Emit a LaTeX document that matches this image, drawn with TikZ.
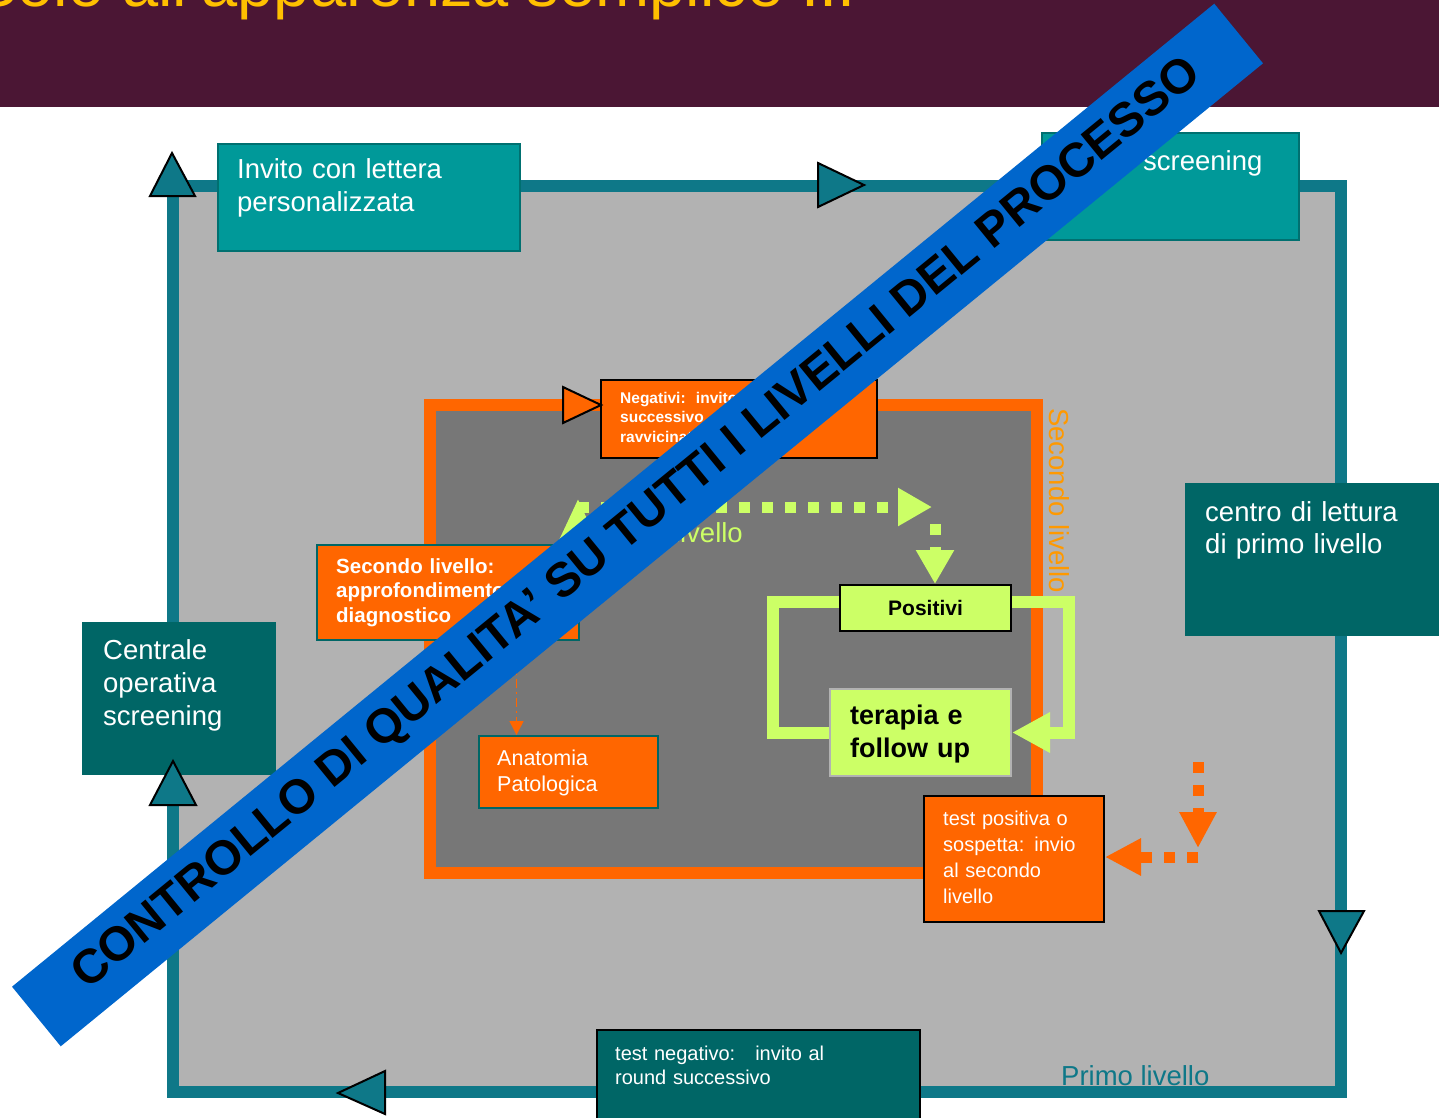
\documentclass[tikz,border=0pt]{standalone}
\usepackage{fontspec}
\setmainfont{Liberation Sans}
\usepackage{tikz}
\usetikzlibrary{calc, arrows.meta}

\definecolor{barra}{HTML}{4B1634}
\definecolor{titolo}{HTML}{FFC000}
\definecolor{cornice}{HTML}{0E7888}
\definecolor{grigio}{HTML}{B2B2B2}
\definecolor{tealchiaro}{HTML}{009999}
\definecolor{tealbordo}{HTML}{007070}
\definecolor{tealscuro}{HTML}{006666}
\definecolor{arancio}{HTML}{FF6600}
\definecolor{grigioscuro}{HTML}{777777}
\definecolor{verde}{HTML}{CCFF66}
\definecolor{ocra}{HTML}{FF9900}
\definecolor{blu}{HTML}{0066CC}

\tikzstyle{scatola}=[draw, line width=2pt, anchor=north west, inner sep=0pt]
\tikzstyle{testo}=[anchor=base west, inner sep=0pt, align=left, text width=8cm, text=white]
\tikzstyle{punta}=[draw=black, line width=2pt, fill=cornice, line join=miter]
\tikzstyle{punti}=[line width=11pt, dash pattern=on 11pt off 12pt]
\tikzstyle{grande}=[font=\fontsize{27.5}{33.5}\selectfont]
\tikzstyle{medio}=[font=\fontsize{20}{26.3}\selectfont]

\begin{document}
\begin{tikzpicture}[x=1pt,y=-1pt,>=Triangle]
  \useasboundingbox (0,0) rectangle (1439,1117);

  % titolo
  \fill[barra] (0,0) rectangle (1439,107);
  \node[anchor=base west, inner sep=0pt, text=titolo, font=\fontsize{65}{72}\selectfont] (titolo) at (-26,6) {Solo all'apparenza semplice ...};

  % primo livello
  \draw[cornice, line width=12pt, fill=grigio] (173,186) rectangle (1341,1092);

  \node[scatola, fill=tealchiaro, draw=tealbordo, minimum width=302pt, minimum height=107pt] (invito) at (217,143) {};
  \node[testo, grande] (invitotxt) at (237,178) {Invito con lettera\\personalizzata};

  \node[scatola, fill=tealchiaro, draw=tealbordo, minimum width=257pt, minimum height=107pt] (screening) at (1041,132) {};
  \node[testo, grande] (screeningtxt) at (1143,170) {screening};

  \node[scatola, fill=tealscuro, draw=tealscuro, minimum width=270pt, minimum height=151pt] (centro) at (1185,483) {};
  \node[testo, font=\fontsize{27.5}{32}\selectfont] (centrotxt) at (1205,521) {centro di lettura\\di primo livello};

  \node[scatola, fill=tealscuro, draw=tealscuro, minimum width=192pt, minimum height=151pt] (centrale) at (82,622) {};
  \node[testo, font=\fontsize{27.5}{33}\selectfont] (centraletxt) at (103,659) {Centrale\\operativa\\screening};

  \node[scatola, fill=tealscuro, draw=black, minimum width=323pt, minimum height=110pt] (negativo) at (596,1029) {};
  \node[testo, font=\fontsize{20}{24.5}\selectfont] (negativotxt) at (615,1060) {test negativo:\ \ \ invito al\\round successivo};

  \node[anchor=base west, inner sep=0pt, text=cornice, grande] (primo) at (1061,1085) {Primo livello};

  % frecce del giro
  \draw[punta] (172,153) -- (195,196) -- (150,196) -- cycle;
  \draw[punta] (864,185) -- (818,207) -- (818,163) -- cycle;
  \draw[punta] (1341,953) -- (1319,911) -- (1364,911) -- cycle;
  \draw[punta] (338,1093) -- (385,1071) -- (385,1114) -- cycle;
  \draw[punta] (173,761) -- (196,805) -- (150,805) -- cycle;

  % secondo livello
  \draw[arancio, line width=12pt, fill=grigioscuro] (430,405) rectangle (1037,873);
  \node[anchor=base west, inner sep=0pt, rotate=-90, text=ocra, grande] (secondo) at (1049,408) {Secondo livello};

  \node[scatola, fill=arancio, draw=black, minimum width=276pt, minimum height=78pt] (negativi) at (600,379) {};
  \node[testo, font=\bfseries\fontsize{15.5}{19.5}\selectfont] (negativitxt) at (620,403) {Negativi:\ \ invito\\successivo\\ravvicinato};
  \draw[punta, fill=arancio] (563,387) -- (601,405) -- (563,423) -- cycle;

  \node[scatola, fill=arancio, draw=tealscuro, minimum width=262pt, minimum height=95pt] (approf) at (316,544) {};
  \node[testo, font=\bfseries\fontsize{20.5}{24.8}\selectfont] (approftxt) at (336,573) {Secondo livello:\\approfondimento\\diagnostico};

  \node[scatola, fill=arancio, draw=tealscuro, minimum width=179pt, minimum height=72pt] (anatomia) at (478,735) {};
  \node[testo, font=\fontsize{21.5}{26}\selectfont] (anatomiatxt) at (497,765) {Anatomia\\Patologica};
  \draw[arancio, line width=1.5pt, dash pattern=on 9pt off 4pt on 2pt off 4pt, -{Triangle[length=14pt,width=14pt]}] ([xshift=-52pt]anatomia.north |- approf.south) -- ([xshift=-52pt]anatomia.north);

  % percorso verde
  \coordinate (verdeA) at (578,507);
  \coordinate (verdeB) at (935,507);
  \node[anchor=base east, inner sep=0pt, text=verde, grande] (livellotxt) at (743,542) {livello};

  \node[scatola, fill=verde, draw=black, minimum width=171pt, minimum height=46pt, font=\bfseries\fontsize{21}{25}\selectfont] (positivi) at (839,584) {Positivi};
  \node[scatola, fill=verde, draw=gray!60, minimum width=181pt, minimum height=87pt] (terapia) at (829,688) {};
  \node[testo, text=black, font=\bfseries\fontsize{27}{33}\selectfont] (terapiatxt) at (850,724) {terapia e\\follow up};

  \draw[verde, punti, -{Triangle[length=44pt,width=36pt]}] ([yshift=-60pt]verdeA) -- ([yshift=9pt]verdeA);
  \draw[verde, punti, -{Triangle[length=34pt,width=36pt]}] (verdeA) -- ([xshift=-3pt]verdeB);
  \draw[verde, punti, -{Triangle[length=34pt,width=36pt]}] ([yshift=-17pt]verdeB) -- (verdeB |- positivi.north);

  \draw[verde, line width=12pt] ([yshift=6pt]positivi.west) -- ++(-66,0) |- (terapia.west);
  \draw[verde, line width=12pt, -{Triangle[length=38pt,width=38pt]}] ([yshift=6pt]positivi.east) -- ++(57,0) |- (terapia.east);

  % invio al secondo livello
  \node[scatola, fill=arancio, draw=black, minimum width=180pt, minimum height=126pt] (sospetta) at (923,795) {};
  \node[testo, medio] (sospettatxt) at (943,825) {test positiva o\\sospetta: invio\\al secondo\\livello};

  \coordinate (aranA) at (1198,762);
  \coordinate (aranB) at (1198,857);
  \draw[arancio, punti, -{Triangle[length=36pt,width=35pt]}] (aranA) -- ([yshift=9pt]aranB);
  \draw[arancio, punti, -{Triangle[length=36pt,width=35pt]}] (aranB) -- (sospetta.east |- aranB);

  % fascia
  \node[fill=blu, rotate=39.27, minimum width=1553pt, minimum height=77pt, inner sep=0pt, font=\bfseries\fontsize{48}{50}\selectfont] (controllo) at (637.5,525) {CONTROLLO DI QUALITA’ SU TUTTI I LIVELLI DEL PROCESSO};
\end{tikzpicture}
\end{document}
